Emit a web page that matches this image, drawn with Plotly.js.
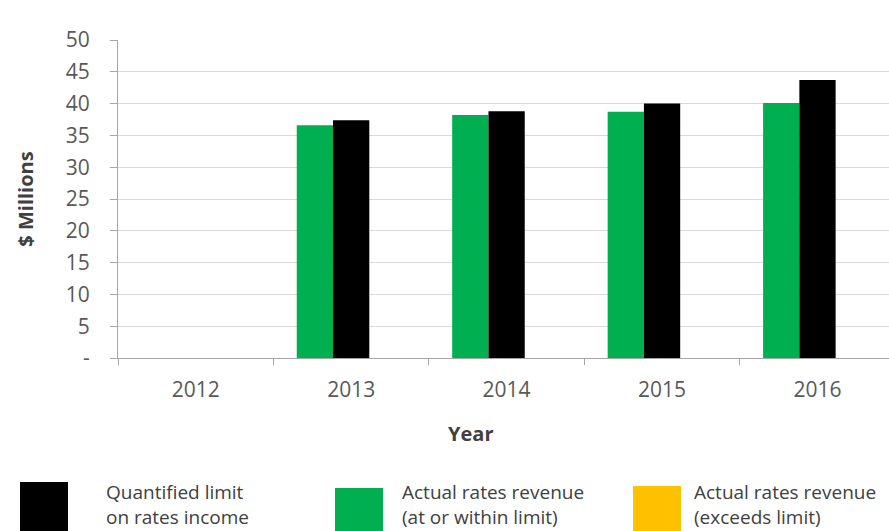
<!DOCTYPE html>
<html>
<head>
<meta charset="utf-8">
<script src="https://cdn.plot.ly/plotly-3.0.1.min.js"></script>
<style>html,body{margin:0;padding:0;background:#fff;}#chart{width:889px;height:531px;}</style>
</head>
<body>
<div id="chart"></div>
<script>
var years = ['2012', '2013', '2014', '2015', '2016'];
var actualWithin = [null, 36.6, 38.2, 38.7, 40.1];
var quantifiedLimit = [null, 37.4, 38.8, 40.0, 43.7];
var actualExceeds = [null, null, null, null, null];
var yTickVals = [0, 5, 10, 15, 20, 25, 30, 35, 40, 45, 50];
var yTickText = ['-', '5', '10', '15', '20', '25', '30', '35', '40', '45', '50'];
var legendNames = ['Quantified limit<br>on rates income', 'Actual rates revenue<br>(at or within limit)', 'Actual rates revenue<br>(exceeds limit)'];
var legendColors = ['#000000', '#00B050', '#FFC000'];
var xTitle = 'Year';
var yTitle = '$ Millions';

var W = 889, H = 531, L = 118, R = 0, T = 40, B = 173;
var pw = W - L - R, ph = H - T - B;
function px(X) { return (X - L) / pw; }
function py(Y) { return (H - B - Y) / ph; }

var FONT = 'Open Sans, Lato, sans-serif';

var traces = [
  {type: 'bar', x: years, y: actualWithin, name: 'Actual rates revenue (at or within limit)', marker: {color: legendColors[1]}, hoverinfo: 'x+y'},
  {type: 'bar', x: years, y: quantifiedLimit, name: 'Quantified limit on rates income', marker: {color: legendColors[0]}, hoverinfo: 'x+y'},
  {type: 'bar', x: years, y: actualExceeds, name: 'Actual rates revenue (exceeds limit)', marker: {color: legendColors[2]}, hoverinfo: 'x+y'}
];

var legBoxes = [[20, 68, 482], [335, 383, 488], [633, 681, 486]];
var legText = [105, 401, 693];
var shapes = [], annotations = [];
for (var i = 0; i < 3; i++) {
  shapes.push({type: 'rect', xref: 'paper', yref: 'paper',
    x0: px(legBoxes[i][0]), x1: px(legBoxes[i][1]), y0: py(legBoxes[i][2]), y1: py(540),
    fillcolor: legendColors[i], line: {width: 0}});
  annotations.push({xref: 'paper', yref: 'paper', x: px(legText[i]), y: py(478),
    xanchor: 'left', yanchor: 'top', align: 'left', showarrow: false, borderpad: 0,
    text: legendNames[i], font: {family: FONT, size: 19, color: '#404040'}});
}
annotations.push({xref: 'paper', yref: 'paper', x: px(470), y: py(433),
  xanchor: 'center', yanchor: 'middle', showarrow: false,
  text: xTitle, font: {family: FONT, size: 20, color: '#404040', weight: 'bold'}});

var layout = {
  width: W, height: H,
  margin: {l: L, r: R, t: T, b: B, pad: 0},
  paper_bgcolor: '#ffffff', plot_bgcolor: '#ffffff',
  showlegend: false,
  barmode: 'group', bargap: 0.3, bargroupgap: 0,
  font: {family: FONT, color: '#595959'},
  xaxis: {
    type: 'category', categoryorder: 'array', categoryarray: years,
    range: [-0.5, 4.46],
    showgrid: false, zeroline: false,
    showline: true, linecolor: '#a6a6a6', linewidth: 1,
    ticks: 'outside', tickson: 'boundaries', ticklen: 6, tickcolor: '#a6a6a6',
    tickfont: {family: FONT, size: 21, color: '#595959'},
    ticklabelstandoff: 13
  },
  yaxis: {
    range: [0, 50], autorange: false,
    tickmode: 'array', tickvals: yTickVals, ticktext: yTickText,
    showgrid: true, gridcolor: '#d9d9d9', gridwidth: 1,
    zeroline: false,
    showline: true, linecolor: '#a6a6a6', linewidth: 1,
    ticks: 'outside', ticklen: 7, tickcolor: '#a6a6a6',
    tickfont: {family: FONT, size: 21, color: '#595959'},
    ticklabelstandoff: 16,
    title: {text: yTitle, font: {family: FONT, size: 20, color: '#404040', weight: 'bold'}, standoff: 26}
  },
  shapes: shapes,
  annotations: annotations
};

Plotly.newPlot('chart', traces, layout, {displayModeBar: false, staticPlot: true});
</script>
</body>
</html>
